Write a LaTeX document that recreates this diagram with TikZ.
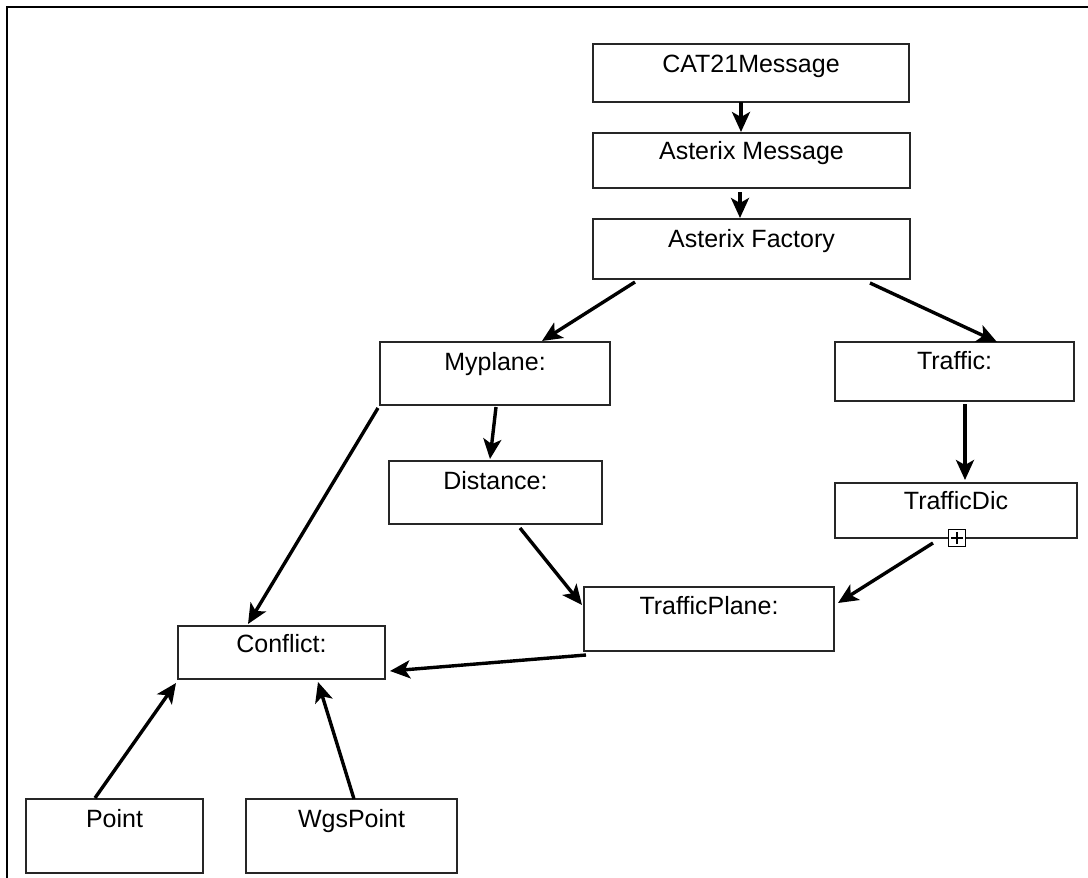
\documentclass[tikz,border=0pt]{standalone}
\usepackage{fontspec}
\setmainfont{Liberation Sans}
\usetikzlibrary{arrows.meta}
\begin{document}
\begin{tikzpicture}[x=1pt,y=-1pt,
  box/.style={draw=black!85,line width=2pt,rectangle,inner sep=0pt,outer sep=0pt},
  txt/.style={anchor=base,inner sep=0pt,font=\fontsize{25}{30}\selectfont},
  conn/.style={line width=3.4pt,-{Stealth[length=20pt,width=18pt,inset=5pt]}},
  frame/.style={line width=2.8pt}]
\useasboundingbox (0,0) rectangle (1088,878);
\draw[frame] (7,878) -- (7,7) -- (1088,7);

% boxes
\node[box,minimum width=316pt,minimum height=58pt] (cat) at (751,73) {};
\node[box,minimum width=317pt,minimum height=55pt] (amsg) at (751.5,160.5) {};
\node[box,minimum width=317pt,minimum height=60pt] (fact) at (751.5,249) {};
\node[box,minimum width=230pt,minimum height=63pt] (myplane) at (495,373.5) {};
\node[box,minimum width=239pt,minimum height=59pt] (traffic) at (954.5,371.5) {};
\node[box,minimum width=213pt,minimum height=63pt] (distance) at (495.5,492.5) {};
\node[box,minimum width=242pt,minimum height=55pt] (tdic) at (956,510.5) {};
\node[box,minimum width=250pt,minimum height=64pt] (tplane) at (709,619) {};
\node[box,minimum width=207pt,minimum height=53pt] (conflict) at (281.5,652.5) {};
\node[box,minimum width=177pt,minimum height=74pt] (point) at (114.5,836) {};
\node[box,minimum width=211pt,minimum height=74pt] (wgs) at (351.5,836) {};

% labels
\node[txt] (catT) at (751,72) {CAT21Message};
\node[txt] (amsgT) at (751.5,159) {Asterix Message};
\node[txt] (factT) at (751.5,247) {Asterix Factory};
\node[txt] (myplaneT) at (495,370) {Myplane:};
\node[txt] (trafficT) at (954.5,369) {Traffic:};
\node[txt] (distanceT) at (495.5,489) {Distance:};
\node[txt] (tdicT) at (956,509) {TrafficDic};
\node[txt] (tplaneT) at (709,614) {TrafficPlane:};
\node[txt] (conflictT) at (281.5,652) {Conflict:};
\node[txt] (pointT) at (114.5,827) {Point};
\node[txt] (wgsT) at (351.5,827) {WgsPoint};

% plus icon
\node[draw=black,line width=1.3pt,fill=white,minimum width=17pt,minimum height=17pt,inner sep=0pt] (plus) at (957,538) {};
\draw[line width=1.1pt] ([yshift=-3pt]plus.north) -- ([yshift=3pt]plus.south);
\draw[line width=1.1pt] ([xshift=3pt]plus.west) -- ([xshift=-3pt]plus.east);

% connectors
\draw[conn] ([xshift=-10pt]cat.south) -- ([xshift=-10.5pt,yshift=1pt]amsg.north);
\draw[conn] ([xshift=-11.5pt,yshift=-4pt]amsg.south) -- ([xshift=-11.5pt,yshift=1pt]fact.north);
\draw[conn] ([xshift=-116.5pt,yshift=-3pt]fact.south) -- ([xshift=47pt,yshift=1pt]myplane.north);
\draw[conn] ([xshift=118.5pt,yshift=-4pt]fact.south) -- ([xshift=42.5pt]traffic.north);
\draw[conn] ([xshift=1pt,yshift=-2pt]myplane.south) -- ([xshift=-5.5pt,yshift=2pt]distance.north);
\draw[conn] ([xshift=-2pt,yshift=-3pt]myplane.south west) -- ([xshift=-33.5pt,yshift=2pt]conflict.north);
\draw[conn] ([xshift=10.5pt,yshift=-3pt]traffic.south) -- ([xshift=9pt,yshift=3pt]tdic.north);
\draw[conn] ([xshift=24.5pt,yshift=-4pt]distance.south) -- ([xshift=-2pt,yshift=14pt]tplane.west);
\draw[conn] ([xshift=-23pt,yshift=-5pt]tdic.south) -- ([xshift=4pt,yshift=16pt]tplane.east);
\draw[conn] ([xshift=2pt,yshift=-4pt]tplane.south west) -- ([xshift=5pt,yshift=-18.5pt]conflict.east);
\draw[conn] ([xshift=-19.5pt,yshift=1pt]point.north) -- ([xshift=-2pt,yshift=-4pt]conflict.south west);
\draw[conn] ([xshift=2.5pt]wgs.north) -- ([xshift=36.5pt,yshift=-3pt]conflict.south);
\end{tikzpicture}
\end{document}
